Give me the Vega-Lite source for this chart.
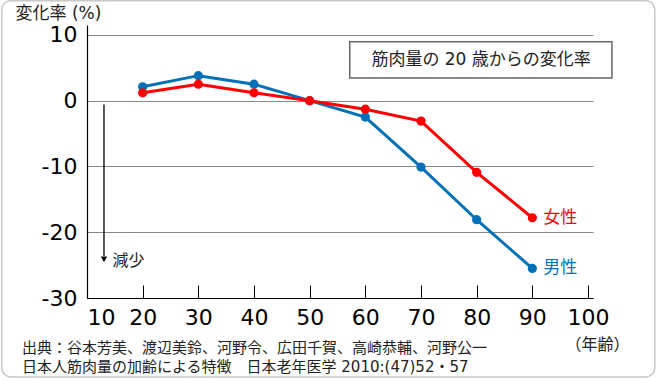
{
  "$schema": "https://vega.github.io/schema/vega-lite/v6.json",
  "autosize": "none",
  "width": 506,
  "height": 273,
  "padding": {"left": 87, "top": 25, "right": 67, "bottom": 82},
  "background": "white",
  "config": {
    "font": "DejaVu Sans, Noto Sans CJK JP",
    "view": {"stroke": null},
    "axis": {"labelFont": "DejaVu Sans, Noto Sans CJK JP", "titleFont": "DejaVu Sans, Noto Sans CJK JP"}
  },
  "title": {
    "text": ["出典：谷本芳美、渡辺美鈴、河野令、広田千賀、高崎恭輔、河野公一", "日本人筋肉量の加齢による特徴　日本老年医学 2010:(47)52・57"],
    "orient": "bottom",
    "anchor": "start",
    "frame": "group",
    "dx": -65,
    "offset": -37,
    "fontSize": 15,
    "fontWeight": "normal",
    "lineHeight": 19,
    "color": "#222",
    "font": "DejaVu Sans, Noto Sans CJK JP"
  },
  "data": {
    "values": [
      {"age": 20, "change": 2.1, "sex": "男性"},
      {"age": 30, "change": 3.8, "sex": "男性"},
      {"age": 40, "change": 2.5, "sex": "男性"},
      {"age": 50, "change": 0, "sex": "男性"},
      {"age": 60, "change": -2.5, "sex": "男性"},
      {"age": 70, "change": -10.1, "sex": "男性"},
      {"age": 80, "change": -18.1, "sex": "男性"},
      {"age": 90, "change": -25.5, "sex": "男性"},
      {"age": 20, "change": 1.2, "sex": "女性"},
      {"age": 30, "change": 2.5, "sex": "女性"},
      {"age": 40, "change": 1.2, "sex": "女性"},
      {"age": 50, "change": 0, "sex": "女性"},
      {"age": 60, "change": -1.3, "sex": "女性"},
      {"age": 70, "change": -3.1, "sex": "女性"},
      {"age": 80, "change": -10.9, "sex": "女性"},
      {"age": 90, "change": -17.8, "sex": "女性"}
    ]
  },
  "layer": [
    {
      "data": {"values": [{}]},
      "mark": {"type": "rect", "fill": null, "stroke": "#c8c8c8", "strokeWidth": 1.5, "cornerRadius": 9, "clip": false},
      "encoding": {
        "x": {"datum": -5.3, "type": "quantitative", "scale": {"domain": [10, 100.9]}},
        "x2": {"datum": 112},
        "y": {"datum": 15.2, "type": "quantitative", "scale": {"domain": [-30, 11.5]}},
        "y2": {"datum": -42}
      }
    },
    {
      "mark": {"type": "line", "strokeWidth": 3},
      "encoding": {
        "x": {
          "field": "age", "type": "quantitative",
          "scale": {"domain": [10, 100.9], "nice": false, "zero": false},
          "axis": {
            "values": [10, 20, 30, 40, 50, 60, 70, 80, 90, 100],
            "grid": false,
            "domainColor": "#000",
            "domainWidth": 1.2,
            "tickColor": "#000",
            "tickSize": -13,
            "labelPadding": 22,
            "labelFontSize": 22,
            "labelColor": "#000",
            "labelFlush": 1,
            "title": "（年齢）",
            "titleFontSize": 16,
            "titleFontWeight": "normal",
            "titleColor": "#222",
            "titleX": 510,
            "titleY": 51,
            "titleBaseline": "alphabetic",
            "titleAnchor": "start",
            "titleAlign": "center"
          }
        },
        "y": {
          "field": "change", "type": "quantitative",
          "scale": {"domain": [-30, 11.5], "nice": false, "zero": false},
          "axis": {
            "values": [-30, -20, -10, 0, 10],
            "labelExpr": "'' + datum.value",
            "grid": true,
            "gridColor": "#888",
            "gridWidth": 1,
            "ticks": false,
            "domainColor": "#000",
            "domainWidth": 1.2,
            "labelFontSize": 22,
            "labelColor": "#000",
            "labelPadding": 10,
            "title": "変化率 (%)",
            "titleFontSize": 17,
            "titleFontWeight": "normal",
            "titleColor": "#222",
            "titleAngle": 0,
            "titleAlign": "left",
            "titleBaseline": "alphabetic",
            "titleAnchor": "start",
            "titleX": -72,
            "titleY": -7
          }
        },
        "color": {"field": "sex", "type": "nominal", "scale": {"domain": ["男性", "女性"], "range": ["#0071b8", "#ff0000"]}, "legend": null}
      }
    },
    {
      "mark": {"type": "point", "filled": true, "opacity": 1, "size": 85},
      "encoding": {
        "x": {"field": "age", "type": "quantitative"},
        "y": {"field": "change", "type": "quantitative"},
        "color": {"field": "sex", "type": "nominal", "legend": null}
      }
    },
    {
      "transform": [{"filter": "datum.age == 90"}],
      "mark": {"type": "text", "align": "left", "baseline": "middle", "dx": 11, "fontSize": 17, "font": "Noto Sans CJK JP"},
      "encoding": {
        "x": {"field": "age", "type": "quantitative"},
        "y": {"field": "change", "type": "quantitative"},
        "text": {"field": "sex"},
        "color": {"field": "sex", "type": "nominal", "legend": null}
      }
    },
    {
      "data": {"values": [{}]},
      "mark": {"type": "rect", "fill": "white", "stroke": "#666", "strokeWidth": 1.5, "clip": false},
      "encoding": {
        "x": {"datum": 57.2, "type": "quantitative"},
        "x2": {"datum": 104.3},
        "y": {"datum": 8.94, "type": "quantitative"},
        "y2": {"datum": 3.46}
      }
    },
    {
      "data": {"values": [{}]},
      "mark": {"type": "text", "align": "center", "baseline": "middle", "fontSize": 17, "color": "#222", "clip": false},
      "encoding": {
        "x": {"datum": 80.8, "type": "quantitative"},
        "y": {"datum": 6.2, "type": "quantitative"},
        "text": {"value": "筋肉量の 20 歳からの変化率"}
      }
    },
    {
      "data": {"values": [{}]},
      "mark": {"type": "rule", "color": "#000", "strokeWidth": 1.3},
      "encoding": {
        "x": {"datum": 13.05, "type": "quantitative"},
        "y": {"datum": -0.6, "type": "quantitative"},
        "y2": {"datum": -23.6}
      }
    },
    {
      "data": {"values": [{}]},
      "mark": {"type": "point", "shape": "triangle-down", "filled": true, "color": "#000", "opacity": 1, "size": 40},
      "encoding": {
        "x": {"datum": 13.05, "type": "quantitative"},
        "y": {"datum": -24.1, "type": "quantitative"}
      }
    },
    {
      "data": {"values": [{}]},
      "mark": {"type": "text", "align": "left", "baseline": "middle", "fontSize": 16, "color": "#222"},
      "encoding": {
        "x": {"datum": 14.6, "type": "quantitative"},
        "y": {"datum": -24.3, "type": "quantitative"},
        "text": {"value": "減少"}
      }
    }
  ]
}
